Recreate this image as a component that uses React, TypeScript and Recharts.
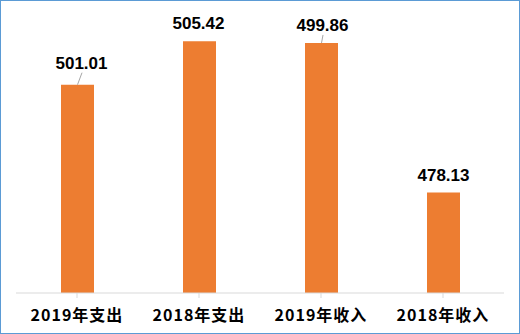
import React from 'react';
import { BarChart, Bar, XAxis, YAxis, LabelList } from 'recharts';

const categories = ['2019年支出', '2018年支出', '2019年收入', '2018年收入'];
// bar heights as drawn in the picture (on a 460–510 value scale)
const barValues = [497.6, 505.42, 505.13, 478.13];
// data label texts as printed in the picture
const labelTexts = ['501.01', '505.42', '499.86', '478.13'];

const data = categories.map((c, i) => ({ name: c, value: barValues[i], label: labelTexts[i] }));

const labelShift = [
  { dx: 4, dy: -4, leader: true },
  { dx: -1, dy: 0, leader: false },
  { dx: 1, dy: 0, leader: true },
  { dx: 0, dy: 0, leader: false },
];

const BarLabel = (props: any) => {
  const { x, y, width, index, value } = props;
  const s = labelShift[index] || { dx: 0, dy: 0, leader: false };
  const cx = x + width / 2;
  const lx = cx + s.dx;
  const ly = y - 12 + s.dy;
  return (
    <g>
      {s.leader && (
        <line x1={lx + 0.5} y1={ly + 4} x2={cx} y2={y} stroke="#A6A6A6" strokeWidth={1} />
      )}
      <text
        x={lx}
        y={ly}
        textAnchor="middle"
        fontFamily="'Liberation Sans', Arial, sans-serif"
        fontWeight="bold"
        fontSize={17}
        fill="#000"
      >
        {value}
      </text>
    </g>
  );
};

const CatTick = (props: any) => {
  const { x, y, payload } = props;
  return (
    <text
      x={x}
      y={y + 21}
      textAnchor="middle"
      fontFamily="'Noto Sans CJK SC', 'Liberation Sans', sans-serif"
      fontWeight="bold"
      fontSize={16}
      letterSpacing={1}
      fill="#000"
    >
      {payload.value}
    </text>
  );
};

export default function App() {
  return (
    <div style={{ width: 520, height: 334, position: 'relative', background: '#fff' }}>
      <style>{`body{margin:0}`}</style>
      <div
        style={{
          position: 'absolute',
          left: 0,
          top: 0,
          width: 520,
          height: 334,
          boxSizing: 'border-box',
          border: '1.5px solid #5B9BD5',
          pointerEvents: 'none',
          zIndex: 2,
        }}
      />
      <BarChart
        width={520}
        height={334}
        data={data}
        margin={{ top: 16, right: 16, left: 16, bottom: 0 }}
      >
        <YAxis hide domain={[460, 510]} allowDataOverflow />
        <XAxis
          dataKey="name"
          height={41}
          axisLine={{ stroke: '#D9D9D9', strokeWidth: 1 }}
          tickLine={{ stroke: '#D9D9D9' }}
          tickSize={5}
          interval={0}
          tick={<CatTick />}
        />
        <Bar dataKey="value" fill="#ED7D31" barSize={33} isAnimationActive={false}>
          <LabelList dataKey="label" content={<BarLabel />} />
        </Bar>
      </BarChart>
    </div>
  );
}
